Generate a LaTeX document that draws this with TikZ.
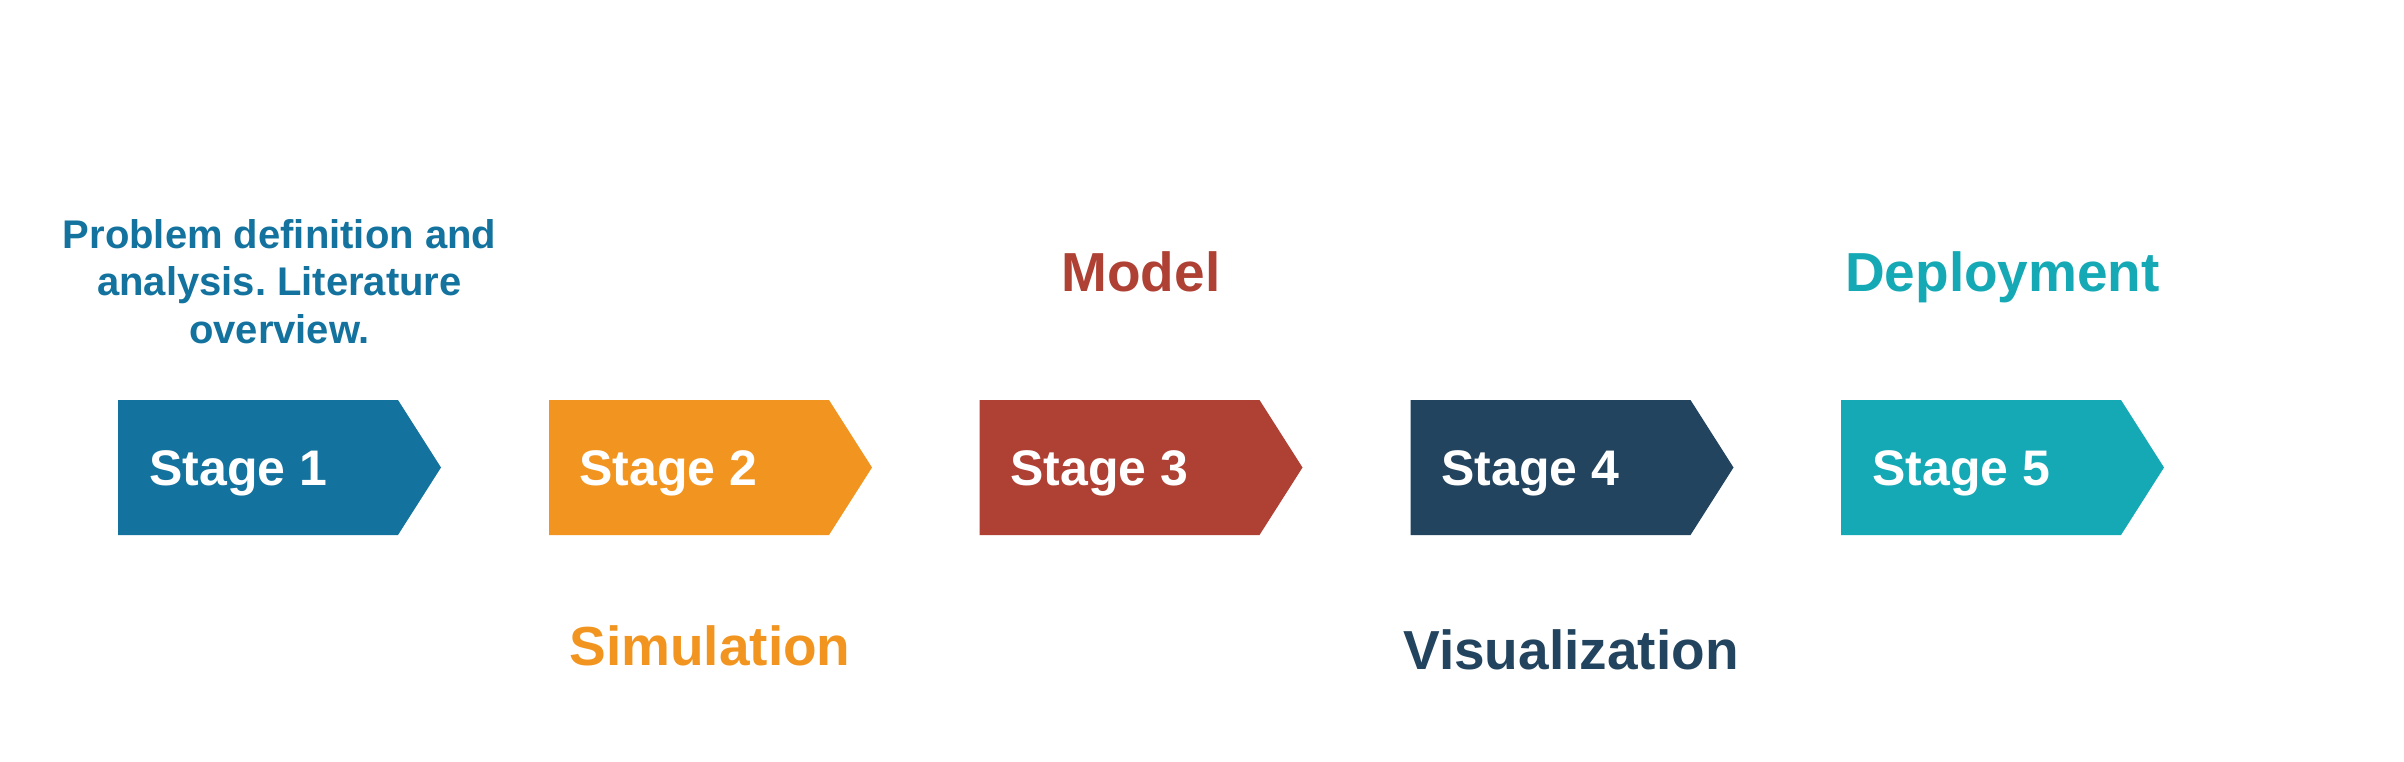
\documentclass[tikz,border=0pt]{standalone}
\usepackage{fontspec}
\setmainfont{Liberation Sans}
\frenchspacing
\definecolor{cblue}{RGB}{19,115,158}
\definecolor{corange}{RGB}{242,149,32}
\definecolor{cred}{RGB}{175,64,52}
\definecolor{cnavy}{RGB}{34,68,94}
\definecolor{cteal}{RGB}{20,169,181}
\tikzset{
  stagetxt/.style={text=white, font=\bfseries\fontsize{50}{60}\selectfont, anchor=base west, inner sep=0pt},
  lbl/.style={font=\bfseries\fontsize{55}{66}\selectfont, anchor=base, inner sep=0pt},
}
\newcommand{\stagearrow}[3]{% left x, colour, name
  \fill[#2] (#1,400) -- (#1+280,400) -- (#1+323,467.5) -- (#1+280,535) -- (#1,535) -- cycle;
}
\begin{document}
\begin{tikzpicture}[x=1pt,y=-1pt]
\useasboundingbox[fill=white] (0,0) rectangle (2404,762);
\stagearrow{118}{cblue}{a1}
\stagearrow{549}{corange}{a2}
\stagearrow{979.5}{cred}{a3}
\stagearrow{1410.5}{cnavy}{a4}
\stagearrow{1841}{cteal}{a5}
\node[stagetxt] (s1) at (149,485) {Stage 1};
\node[stagetxt] (s2) at (579,485) {Stage 2};
\node[stagetxt] (s3) at (1010,485) {Stage 3};
\node[stagetxt] (s4) at (1441,485) {Stage 4};
\node[stagetxt] (s5) at (1872,485) {Stage 5};
\node[font=\bfseries\fontsize{40}{47.3}\selectfont, text=cblue, align=center, anchor=base, inner sep=0pt] (l1) at (279.5,343) {Problem definition and\\analysis. Literature\\overview.};
\node[lbl, text=cred] (l3) at (1141,291.7) {Model};
\node[lbl, text=cteal] (l5) at (2002.5,291.7) {Deployment};
\node[lbl, text=corange] (l2) at (710,665) {Simulation};
\node[lbl, text=cnavy] (l4) at (1571,669) {Visualization};
\end{tikzpicture}
\end{document}
